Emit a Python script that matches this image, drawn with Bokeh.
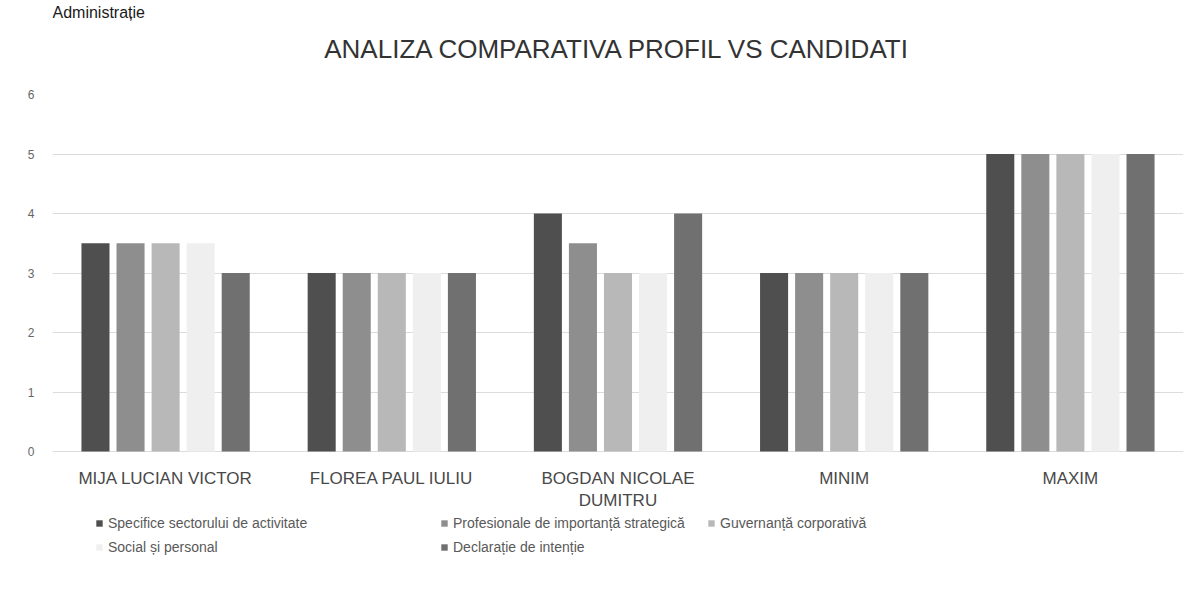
from bokeh.plotting import figure
from bokeh.models import ColumnDataSource, FactorRange, Legend, LegendItem, Label, LabelSet, FixedTicker
from bokeh.transform import dodge
from bokeh.core.properties import value
from bokeh.embed import file_html
from bokeh.resources import INLINE

categories = ["MIJA LUCIAN VICTOR", "FLOREA PAUL IULIU", "BOGDAN NICOLAE DUMITRU", "MINIM", "MAXIM"]
label_line1 = ["MIJA LUCIAN VICTOR", "FLOREA PAUL IULIU", "BOGDAN NICOLAE", "MINIM", "MAXIM"]
label_line2 = ["", "", "DUMITRU", "", ""]
series_names = [
    "Specifice sectorului de activitate",
    "Profesionale de importanță strategică",
    "Guvernanță corporativă",
    "Social și personal",
    "Declarație de intenție",
]
specifice = [3.5, 3.0, 4.0, 3.0, 5.0]
profesionale = [3.5, 3.0, 3.5, 3.0, 5.0]
guvernanta = [3.5, 3.0, 3.0, 3.0, 5.0]
social = [3.5, 3.0, 3.0, 3.0, 5.0]
declaratie = [3.0, 3.0, 4.0, 3.0, 5.0]
colors = ["#4f4f4f", "#8e8e8e", "#b8b8b8", "#efefef", "#707070"]

FONT = "Liberation Sans"
PX_PER_UNIT = 59.5
CANVAS_H = 600
FRAME_TOP = 0
FRAME_BOTTOM = 596
ZERO_Y = 451
SIX_Y = 94
Y_TOP = 6 + (SIX_Y - FRAME_TOP) / PX_PER_UNIT
Y_BOTTOM = -(FRAME_BOTTOM - ZERO_Y) / PX_PER_UNIT

source = ColumnDataSource(data=dict(
    cat=categories, s1=specifice, s2=profesionale, s3=guvernanta, s4=social, s5=declaratie,
    line1=label_line1, line2=label_line2,
    y1=[-(478 - ZERO_Y) / PX_PER_UNIT] * len(categories),
    y2=[-(500 - ZERO_Y) / PX_PER_UNIT] * len(categories),
))

p = figure(
    x_range=FactorRange(*categories, range_padding=0),
    y_range=(Y_BOTTOM, Y_TOP),
    width=1192, height=CANVAS_H,
    output_backend="svg", toolbar_location=None,
    min_border_left=52, min_border_right=9,
    min_border_top=FRAME_TOP, min_border_bottom=CANVAS_H - FRAME_BOTTOM,
)
p.outline_line_color = None
p.background_fill_color = "white"

fields = ["s1", "s2", "s3", "s4", "s5"]
offsets = [-0.31, -0.155, 0.0, 0.155, 0.31]
renderers = []
for f, off, c in zip(fields, offsets, colors):
    r = p.vbar(x=dodge("cat", off, range=p.x_range), top=f, bottom=0, width=0.124, source=source,
               fill_color=c, line_color=None)
    renderers.append(r)

p.yaxis.ticker = FixedTicker(ticks=[0, 1, 2, 3, 4, 5, 6])
p.yaxis.axis_line_color = None
p.yaxis.major_tick_line_color = None
p.yaxis.minor_tick_line_color = None
p.yaxis.major_label_standoff = 12
p.yaxis.major_label_text_font = FONT
p.yaxis.major_label_text_font_size = "12px"
p.yaxis.major_label_text_color = "#666666"

p.xaxis.visible = False

p.xgrid.grid_line_color = None
p.ygrid.ticker = FixedTicker(ticks=[0, 1, 2, 3, 4, 5])
p.ygrid.grid_line_color = "#dcdcdc"
p.ygrid.grid_line_width = 1

for col, ycol in (("line1", "y1"), ("line2", "y2")):
    ls = LabelSet(x="cat", y=ycol, text=col, source=source,
                  text_font=value(FONT), text_font_size="17px", text_color="#484848",
                  text_align="center", text_baseline="middle")
    p.add_layout(ls)

def make_legend(items, loc):
    lg = Legend(items=items, location=loc, orientation="vertical")
    lg.border_line_color = None
    lg.background_fill_alpha = 0
    lg.padding = 0
    lg.margin = 0
    lg.spacing = 4
    lg.glyph_width = 8
    lg.glyph_height = 8
    lg.label_text_font = FONT
    lg.label_text_font_size = "14px"
    lg.label_text_color = "#595959"
    lg.label_standoff = 5
    lg.label_height = 20
    return lg

leg_a = make_legend([LegendItem(label=series_names[0], renderers=[renderers[0]]),
                     LegendItem(label=series_names[3], renderers=[renderers[3]])],
                    (43, FRAME_BOTTOM - 557))
leg_b = make_legend([LegendItem(label=series_names[1], renderers=[renderers[1]]),
                     LegendItem(label=series_names[4], renderers=[renderers[4]])],
                    (388, FRAME_BOTTOM - 557))
leg_c = make_legend([LegendItem(label=series_names[2], renderers=[renderers[2]])],
                    (655, FRAME_BOTTOM - 533))
for lg in (leg_a, leg_b, leg_c):
    p.add_layout(lg, "center")

title = Label(x=2.5, y=6 + (SIX_Y - 48) / PX_PER_UNIT, text="ANALIZA COMPARATIVA PROFIL VS CANDIDATI",
              text_font=FONT, text_font_size="26px", text_color="#333333",
              text_align="center", text_baseline="middle")
p.add_layout(title)

header = Label(x=0.0, y=6 + (SIX_Y - 12) / PX_PER_UNIT, text="Administrație", text_font=FONT,
               text_font_size="16px", text_color="#1a1a1a", text_baseline="middle")
p.add_layout(header)

open("out.html", "w").write(file_html(p, INLINE))
